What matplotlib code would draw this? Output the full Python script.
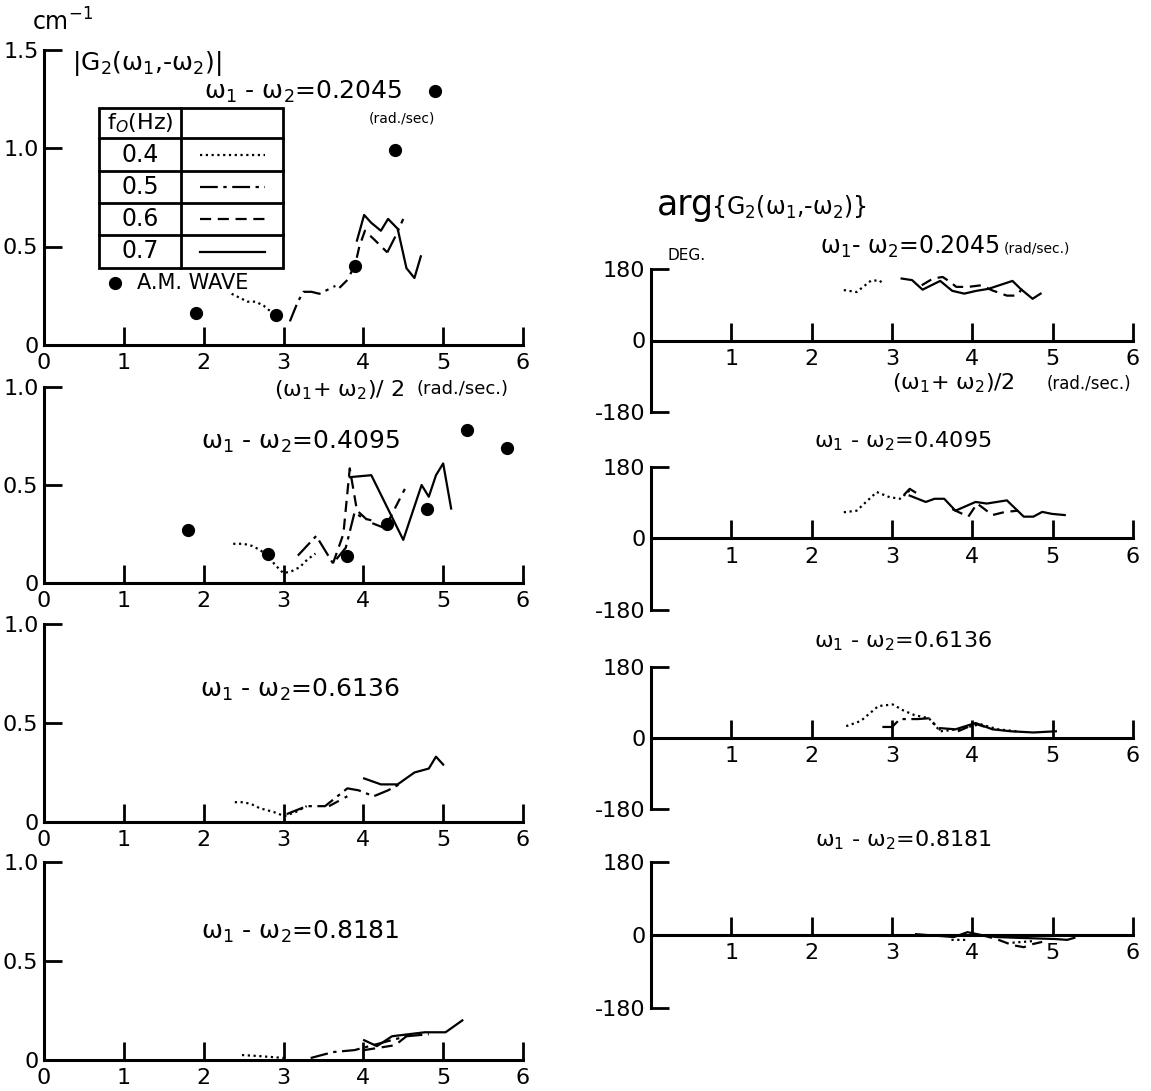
import numpy as np
import matplotlib
matplotlib.use("Agg")
import matplotlib.pyplot as plt
from matplotlib.lines import Line2D
from matplotlib.patches import Rectangle

plt.rcParams['font.family'] = ['DejaVu Sans']
plt.rcParams['mathtext.fontset'] = 'dejavusans'

nan = np.nan

# ---------------- data ----------------
x_ticks = [0, 1, 2, 3, 4, 5, 6]
f0_labels = ['0.4', '0.5', '0.6', '0.7']

# |G2| panels (left)
AM1_x = [1.9, 2.9, 3.9, 4.4, 4.9]
AM1_y = [0.16, 0.15, 0.40, 0.99, 1.29]
L1_04_x = [2.35, 2.45, 2.55, 2.65, 2.75, 2.9]
L1_04_y = [0.26, 0.24, 0.22, 0.22, 0.20, 0.15]
L1_05_x = [3.08, 3.18, 3.25, 3.35, 3.45, 3.55, 3.65, nan, 4.3, 4.4, 4.5]
L1_05_y = [0.12, 0.22, 0.27, 0.27, 0.26, 0.28, 0.30, nan, 0.47, 0.55, 0.64]
L1_06_x = [3.7, 3.8, 3.9, 3.95, 4.02, 4.15, 4.3]
L1_06_y = [0.29, 0.33, 0.41, 0.50, 0.58, 0.53, 0.47]
L1_07_x = [3.92, 4.01, 4.1, 4.22, 4.31, 4.43, 4.54, 4.64, 4.72]
L1_07_y = [0.53, 0.66, 0.62, 0.58, 0.64, 0.59, 0.39, 0.34, 0.45]

AM2_x = [1.8, 2.8, 3.8, 4.3, 4.8, 5.3, 5.8]
AM2_y = [0.27, 0.15, 0.14, 0.30, 0.38, 0.78, 0.69]
L2_04_x = [2.37, 2.5, 2.6, 2.7, 2.8, 2.9, 3.0, 3.1, 3.2, 3.3, 3.4]
L2_04_y = [0.20, 0.20, 0.19, 0.17, 0.14, 0.09, 0.05, 0.06, 0.08, 0.12, 0.15]
L2_05_x = [3.18, 3.41, 3.62, 3.78, 3.89, 4.0, 4.1]
L2_05_y = [0.14, 0.24, 0.10, 0.18, 0.36, 0.33, 0.32]
L2_06_x = [3.62, 3.75, 3.83, 3.92, 4.08, 4.27, 4.52]
L2_06_y = [0.10, 0.25, 0.585, 0.37, 0.31, 0.28, 0.48]
L2_07_x = [3.83, 4.1, 4.5, 4.73, 4.82, 4.91, 5.0, 5.1]
L2_07_y = [0.54, 0.55, 0.22, 0.50, 0.44, 0.55, 0.61, 0.38]

L3_04_x = [2.39, 2.5, 2.6, 2.7, 2.88, 3.01, 3.15, 3.29]
L3_04_y = [0.10, 0.10, 0.09, 0.07, 0.05, 0.03, 0.05, 0.08]
L3_05_x = [3.04, 3.29, 3.52, 3.8, 3.94, 4.13, 4.31, 4.45]
L3_05_y = [0.04, 0.08, 0.08, 0.17, 0.16, 0.13, 0.16, 0.19]
L3_06_x = [3.57, 3.8]
L3_06_y = [0.08, 0.13]
L3_07_x = [4.01, 4.22, 4.43, 4.64, 4.82, 4.91, 5.0]
L3_07_y = [0.22, 0.19, 0.19, 0.25, 0.27, 0.33, 0.29]

L4_04_x = [2.48, 2.69, 3.01]
L4_04_y = [0.025, 0.02, 0.01]
L4_05_x = [3.34, 3.62, 3.89, 4.26, 4.54, 4.82]
L4_05_y = [0.01, 0.04, 0.05, 0.09, 0.12, 0.13]
L4_06_x = [4.01, 4.4, 4.54]
L4_06_y = [0.05, 0.075, 0.12]
L4_07_x = [4.01, 4.17, 4.36, 4.77, 5.03, 5.24]
L4_07_y = [0.10, 0.07, 0.12, 0.14, 0.14, 0.20]

# arg{G2} panels (right), degrees
R1_04_x = [2.40, 2.56, 2.74, 2.85, 2.89]
R1_04_y = [127, 122, 151, 151, 139]
R1_06_x = [3.37, 3.51, 3.63, 3.72, 3.80, 3.95, 4.11, 4.25, 4.43, 4.55, 4.62]
R1_06_y = [139, 156, 160, 148, 135, 135, 139, 126, 113, 113, 130]
R1_07_x = [3.12, 3.25, 3.38, 3.48, 3.6, 3.75, 3.9, 4.05, 4.2, 4.35, 4.5, 4.6, 4.75, 4.85]
R1_07_y = [156, 152, 128, 138, 150, 125, 118, 125, 130, 140, 150, 130, 105, 118]

R2_04_x = [2.40, 2.56, 2.81, 2.97, 3.10, 3.22]
R2_04_y = [66, 70, 117, 104, 100, 121]
R2_05_x = [3.15, 3.22, 3.30]
R2_05_y = [110, 125, 115]
R2_06_x = [3.75, 3.95, 4.06, 4.25, 4.41, 4.57]
R2_06_y = [74, 55, 88, 59, 67, 70]
R2_07_x = [3.22, 3.42, 3.53, 3.65, 3.79, 4.04, 4.18, 4.43, 4.64, 4.76, 4.87, 4.99, 5.15]
R2_07_y = [108, 92, 100, 100, 70, 92, 88, 96, 55, 55, 67, 62, 59]

R3_04_x = [2.43, 2.61, 2.83, 3.01, 3.14, 3.28, 3.46, 3.6, 3.82, 4.1, 4.32, 4.55]
R3_04_y = [30, 43, 81, 85, 70, 58, 50, 17, 22, 35, 22, 17]
R3_05_x = [2.88, 3.0, 3.1, 3.32, 3.46, 3.6]
R3_05_y = [28, 28, 48, 48, 50, 20]
R3_06_x = [3.82, 4.04, 4.16]
R3_06_y = [17, 36, 28]
R3_07_x = [3.6, 3.79, 4.04, 4.25, 4.48, 4.76, 5.04]
R3_07_y = [25, 22, 38, 22, 17, 14, 17]

R4_04_x = [3.74, 3.93, nan, 4.5, 4.76]
R4_04_y = [-12, -12, nan, -19, -15]
R4_06_x = [4.11, 4.3, 4.5, 4.64, 4.76, 4.87]
R4_06_y = [0, -10, -25, -30, -22, -17]
R4_07_x = [3.30, 3.77, 3.94, 4.11, 4.3, 4.57, 5.04, 5.18, 5.27]
R4_07_y = [2, -5, 7, 0, -5, -7, -10, -12, -7]

# ---------------- styling ----------------
STYLE = {
    '0.4': (0, (1, 1.6)),
    '0.5': (0, (8, 2.5, 1.5, 2.5)),
    '0.6': (0, (5, 3)),
    '0.7': '-',
}
LW = 1.6
W, H = 1151, 1091
fig = plt.figure(figsize=(W / 100, H / 100), dpi=100)


def fx(px):
    return px / W


def fy(py):
    return 1 - py / H


def ftext(px, py, s, size, **kw):
    kw.setdefault('ha', 'center')
    kw.setdefault('va', 'center')
    return fig.text(fx(px), fy(py), s, fontsize=size, **kw)


def make_axes(x0, x1, ytop, ybot):
    ax = fig.add_axes([fx(x0), fy(ybot), (x1 - x0) / W, (ybot - ytop) / H])
    ax.patch.set_alpha(0)
    for s in ('top', 'right'):
        ax.spines[s].set_visible(False)
    for s in ('left', 'bottom'):
        ax.spines[s].set_linewidth(2.2)
    ax.tick_params(axis='both', direction='in', length=13, width=2,
                   labelsize=16, colors='black')
    ax.tick_params(axis='x', pad=6)
    ax.tick_params(axis='y', pad=4)
    ax.set_xlim(0, 6)
    return ax


def plot_series(ax, series):
    for key, xs, ys in series:
        ax.plot(xs, ys, color='black', lw=LW, linestyle=STYLE[key],
                clip_on=False)


# left |G2| panels
LX0, LX1 = 44, 523
left_specs = [
    (49.5, 345, 1.5, [0.5, 1.0, 1.5], ['0', '0.5', '1.0', '1.5'],
     [('0.4', L1_04_x, L1_04_y), ('0.5', L1_05_x, L1_05_y),
      ('0.6', L1_06_x, L1_06_y), ('0.7', L1_07_x, L1_07_y)], (AM1_x, AM1_y)),
    (387, 583, 1.0, [0.5, 1.0], ['0', '0.5', '1.0'],
     [('0.4', L2_04_x, L2_04_y), ('0.5', L2_05_x, L2_05_y),
      ('0.6', L2_06_x, L2_06_y), ('0.7', L2_07_x, L2_07_y)], (AM2_x, AM2_y)),
    (624, 822, 1.0, [0.5, 1.0], ['0', '0.5', '1.0'],
     [('0.4', L3_04_x, L3_04_y), ('0.5', L3_05_x, L3_05_y),
      ('0.6', L3_06_x, L3_06_y), ('0.7', L3_07_x, L3_07_y)], None),
    (862, 1060, 1.0, [0.5, 1.0], ['0', '0.5', '1.0'],
     [('0.4', L4_04_x, L4_04_y), ('0.5', L4_05_x, L4_05_y),
      ('0.6', L4_06_x, L4_06_y), ('0.7', L4_07_x, L4_07_y)], None),
]
for ytop, ybot, ymax, yt, ytl, series, am in left_specs:
    ax = make_axes(LX0, LX1, ytop, ybot)
    ax.set_ylim(0, ymax)
    ax.set_yticks([0] + yt)
    ax.set_yticklabels(ytl)
    ax.set_xticks(x_ticks)
    ax.set_xticklabels([str(v) for v in x_ticks])
    plot_series(ax, series)
    if am is not None:
        ax.plot(am[0], am[1], 'o', color='black', ms=8.5, clip_on=False)

# right arg panels
RX0, RX1 = 651, 1133
right_specs = [
    (269, 412, [('0.4', R1_04_x, R1_04_y), ('0.6', R1_06_x, R1_06_y),
                ('0.7', R1_07_x, R1_07_y)]),
    (467, 610, [('0.4', R2_04_x, R2_04_y), ('0.5', R2_05_x, R2_05_y),
                ('0.6', R2_06_x, R2_06_y), ('0.7', R2_07_x, R2_07_y)]),
    (667, 809, [('0.4', R3_04_x, R3_04_y), ('0.5', R3_05_x, R3_05_y),
                ('0.6', R3_06_x, R3_06_y), ('0.7', R3_07_x, R3_07_y)]),
    (862, 1008, [('0.4', R4_04_x, R4_04_y), ('0.6', R4_06_x, R4_06_y),
                 ('0.7', R4_07_x, R4_07_y)]),
]
for ytop, ybot, series in right_specs:
    ax = make_axes(RX0, RX1, ytop, ybot)
    ax.set_ylim(-180, 180)
    ax.spines['bottom'].set_position(('data', 0))
    ax.set_yticks([-180, 0, 180])
    ax.set_yticklabels(['-180', '0', '180'])
    ax.set_xticks(x_ticks[1:])
    ax.set_xticklabels([str(v) for v in x_ticks[1:]])
    plot_series(ax, series)

# ---------------- texts ----------------
ftext(62, 22, 'cm$^{-1}$', 17)
ftext(72, 64, '|G$_2$(ω$_1$,-ω$_2$)|', 18, ha='left')
ftext(303, 92, 'ω$_1$ - ω$_2$=0.2045', 18)
ftext(402, 118, '(rad./sec)', 10)
ftext(339, 390, '(ω$_1$+ ω$_2$)/ 2', 16)
ftext(463, 389, '(rad./sec.)', 13)
ftext(301, 442, 'ω$_1$ - ω$_2$=0.4095', 18)
ftext(300, 690, 'ω$_1$ - ω$_2$=0.6136', 18)
ftext(300, 932, 'ω$_1$ - ω$_2$=0.8181', 18)

ftext(657, 205, 'arg', 25, ha='left')
ftext(711, 207, '{G$_2$(ω$_1$,-ω$_2$)}', 17, ha='left')
ftext(687, 255, 'DEG.', 11)
t_r1 = ftext(820, 247, 'ω$_1$- ω$_2$=0.2045', 17, ha='left')
fig.canvas.draw()
bb = t_r1.get_window_extent()
fig.text(bb.x1 / W + 4 / W, fy(249), '(rad/sec.)', fontsize=10,
         ha='left', va='center')
ftext(953, 383, '(ω$_1$+ ω$_2$)/2', 16)
ftext(1089, 384, '(rad./sec.)', 12)
ftext(903, 441, 'ω$_1$ - ω$_2$=0.4095', 16)
ftext(903, 641, 'ω$_1$ - ω$_2$=0.6136', 16)
ftext(903, 840, 'ω$_1$ - ω$_2$=0.8181', 16)

# ---------------- legend table ----------------
TL, TR, TT, TB, TC = 99, 283, 108, 268, 181
row_edges = [108, 138, 171, 203, 235, 268]
fig.add_artist(Rectangle((fx(TL), fy(TB)), (TR - TL) / W, (TB - TT) / H,
                         transform=fig.transFigure, fill=False,
                         edgecolor='black', lw=2))
for ry in row_edges[1:-1]:
    fig.add_artist(Line2D([fx(TL), fx(TR)], [fy(ry), fy(ry)],
                          transform=fig.transFigure, color='black', lw=2))
fig.add_artist(Line2D([fx(TC), fx(TC)], [fy(TT), fy(TB)],
                      transform=fig.transFigure, color='black', lw=2))
ftext(140, 123, 'f$_O$(Hz)', 16)
for i, lab in enumerate(f0_labels):
    cy = (row_edges[i + 1] + row_edges[i + 2]) / 2
    ftext(140, cy, lab, 17)
    fig.add_artist(Line2D([fx(200), fx(265)], [fy(cy), fy(cy)],
                          transform=fig.transFigure, color='black', lw=LW,
                          linestyle=STYLE[lab]))
fig.add_artist(Line2D([fx(115)], [fy(283)], transform=fig.transFigure,
                      marker='o', ms=8.5, color='black', linestyle='none'))
ftext(137, 283, 'A.M. WAVE', 15, ha='left')

fig.savefig('out.png', dpi=100)
